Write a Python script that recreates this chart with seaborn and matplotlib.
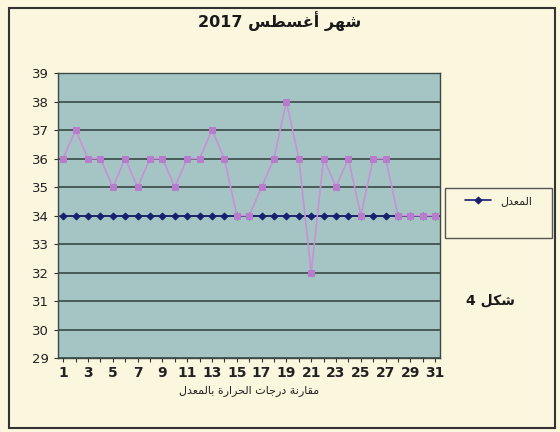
import numpy as np
import pandas as pd
import matplotlib
matplotlib.use("Agg")
import matplotlib.pyplot as plt
import seaborn as sns
from matplotlib.patches import Rectangle

# Daily temperatures for August 2017 compared with the monthly average
days = list(range(1, 32))
temps = [36, 37, 36, 36, 35, 36, 35, 36, 36, 35, 36, 36, 37, 36, 34, 34,
         35, 36, 38, 36, 32, 36, 35, 36, 34, 36, 36, 34, 34, 34, 34]
average = [34] * 31
y_ticks = list(range(29, 40))
x_labels = [str(d) for d in days if d % 2 == 1]

# Arabic strings written in presentation forms, in visual (left-to-right) order
title_txt = "2017 \uFEB2\uFEC4\uFEB4\uFECF\uFE83 \uFEAE\uFEEC\uFEB7"
xlabel_txt = ("\uFEDD\uFEAA\uFECC\uFEE4\uFEDF\uFE8E\uFE91 "
              "\uFE93\uFEAD\uFE8D\uFEAE\uFEA4\uFEDF\uFE8D "
              "\uFE95\uFE8E\uFE9F\uFEAD\uFEA9 "
              "\uFE94\uFEE7\uFEAD\uFE8E\uFED8\uFEE3")
legend_txt = "\uFEDD\uFEAA\uFECC\uFEE4\uFEDF\uFE8D"
figure_txt = "4 \uFEDE\uFEDC\uFEB7"

df = pd.DataFrame({"day": days, "temp": temps, "avg": average})

sns.set_theme(style="white")
plt.rcParams["font.family"] = ["DejaVu Sans"]

fig = plt.figure(figsize=(5.6, 4.32), dpi=100)
fig.patch.set_facecolor("#fbf6de")
ax = fig.add_axes([0.104, 0.171, 0.682, 0.66])
ax.set_facecolor("#a5c5c4")

# Horizontal gridlines
for y in y_ticks:
    ax.axhline(y, color="#2d3f3a", lw=1.1, zorder=1)

sns.lineplot(data=df, x="day", y="avg", ax=ax, color="#16206e", lw=1.2,
             marker="D", markersize=3.5, markeredgecolor="#16206e",
             label=legend_txt, zorder=3)
sns.lineplot(data=df, x="day", y="temp", ax=ax, color="#c890d8", lw=1.2,
             marker="s", markersize=4.5, markerfacecolor="#b77ccc",
             markeredgecolor="#b77ccc", zorder=4, legend=False)

ax.set_xlim(0.6, 31.4)
ax.set_ylim(29, 39)
ax.set_yticks(y_ticks)
ax.set_yticklabels([str(v) for v in y_ticks], fontsize=9.5, color="#222222")
ax.set_xticks(days, minor=True)
ax.set_xticks([d for d in days if d % 2 == 1])
ax.set_xticklabels(x_labels, fontsize=10, fontweight="bold", color="#222222")
ax.tick_params(axis="x", which="both", direction="out", length=3, width=0.8,
               color="#333333", bottom=True, pad=3)
ax.tick_params(axis="y", direction="out", length=3, width=0.8, color="#333333",
               left=True, pad=4)
ax.set_xlabel(xlabel_txt, fontsize=8, color="#222222", labelpad=3)
ax.set_ylabel("")
for side in ["left", "bottom", "right", "top"]:
    ax.spines[side].set_visible(True)
    ax.spines[side].set_color("#3a4a46")
    ax.spines[side].set_linewidth(1.0)

# Legend inside its own box at the right of the plot
ax.get_legend().remove()
handles, labels = ax.get_legend_handles_labels()
fig.add_artist(Rectangle((0.795, 0.449), 0.19, 0.116, transform=fig.transFigure,
                         facecolor="#fbf6de", edgecolor="#555555", lw=1.0))
leg = fig.legend(handles, labels, loc="upper center",
                 bbox_to_anchor=(0.89, 0.57), frameon=False, fontsize=8,
                 handlelength=2.4)

fig.text(0.5, 0.952, title_txt, ha="center", va="center", fontsize=11.5,
         fontweight="bold", color="#1a1a1a")
fig.text(0.875, 0.305, figure_txt, ha="center", va="center", fontsize=10,
         fontweight="bold", color="#1a1a1a")

# Outer chart frame
fig.add_artist(Rectangle((0.016, 0.01), 0.975, 0.972, transform=fig.transFigure,
                         fill=False, edgecolor="#333333", lw=1.5))

fig.savefig("out.png", dpi=100, facecolor=fig.get_facecolor())
